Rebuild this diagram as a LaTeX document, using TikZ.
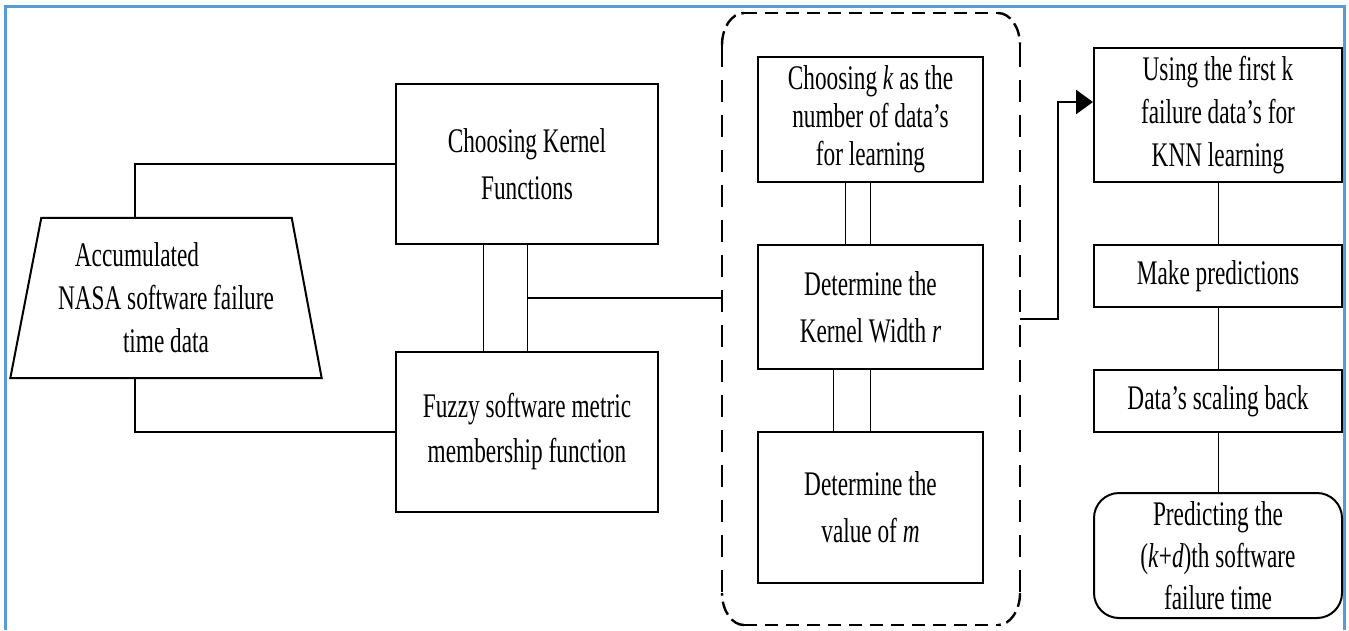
\documentclass[tikz,border=0pt]{standalone}
\usepackage{fontspec}
\setmainfont{Liberation Serif}[FakeStretch=0.675]
\usetikzlibrary{arrows.meta,calc}
\definecolor{frameblue}{RGB}{91,155,213}
\begin{document}
\begin{tikzpicture}[x=1pt,y=-1pt,
  box/.style={draw,line width=2pt,inner sep=0pt,align=center,font=\fontsize{34.5}{44}\selectfont},
  thinline/.style={line width=1pt},
  conn/.style={line width=2.6pt},
  hdash/.style={line width=2.4pt,dash pattern=on 13pt off 8pt},
  vdash/.style={line width=2.4pt,dash pattern=on 22pt off 13pt},
  cdash/.style={line width=2.4pt,dash pattern=on 14pt off 6pt}]
\useasboundingbox (0,0) rectangle (1349,630);
\draw[color=frameblue,line width=3pt] (5,630) -- (5,6) -- (1344,6) -- (1344,630);

% left part
\node[inner sep=0pt,align=center,minimum width=311pt,minimum height=160pt,font=\fontsize{34.5}{43}\selectfont] (src) at (166,298) {Accumulated\hspace*{58pt}\\NASA software failure\\time data};
\draw[line width=2pt] (src.south west) -- ([xshift=31pt]src.north west) -- ([xshift=-30pt]src.north east) -- (src.south east) -- cycle;

\node[box,minimum width=262pt,minimum height=160pt,font=\fontsize{34.5}{47}\selectfont] (kern) at (527,164) {Choosing Kernel\\Functions};
\node[box,minimum width=262pt,minimum height=160pt,font=\fontsize{34.5}{45}\selectfont] (fuzzy) at (527,432) {Fuzzy software metric\\membership function};

\draw[conn] ([xshift=-31pt]src.north) |- (kern.west);
\draw[conn] ([xshift=-31pt]src.south) |- (fuzzy.west);
\draw[thinline] ([xshift=-44pt]kern.south) -- ([xshift=-44pt]fuzzy.north);
\draw[thinline] (kern.south) -- (fuzzy.north);

% dashed group (outline drawn side by side)
\node[inner sep=0pt,outer sep=0pt,minimum width=298pt,minimum height=612pt] (grp) at (871,319) {};
\draw[hdash] (744,13) -- (998,13);
\draw[hdash] (744,625) -- (998,625);
\draw[vdash] (722,45) -- (722,593);
\draw[vdash] (1020,45) -- (1020,593);
\draw[cdash] (722,45) .. controls (722,27.3) and (731.9,13) .. (744,13);
\draw[cdash] (998,13) .. controls (1010.1,13) and (1020,27.3) .. (1020,45);
\draw[cdash] (1020,593) .. controls (1020,610.7) and (1010.1,625) .. (998,625);
\draw[cdash] (744,625) .. controls (731.9,625) and (722,610.7) .. (722,593);

\node[box,minimum width=225pt,minimum height=125pt,font=\fontsize{34.5}{38}\selectfont] (ck) at (870.5,119.5) {Choosing \textit{k} as the\\number of data’s\\for learning};
\node[box,minimum width=225pt,minimum height=124pt,font=\fontsize{34.5}{47}\selectfont] (kw) at (870.5,307) {Determine the\\Kernel Width \textit{r}};
\node[box,minimum width=225pt,minimum height=151pt,font=\fontsize{34.5}{47}\selectfont] (vm) at (870.5,507.5) {Determine the\\value of \textit{m}};
\draw[thinline] ([xshift=-25.5pt]ck.south) -- ([xshift=-25.5pt]kw.north);
\draw[thinline] (ck.south) -- (kw.north);
\draw[thinline] ([xshift=-37.5pt]kw.south) -- ([xshift=-37.5pt]vm.north);
\draw[thinline] (kw.south) -- (vm.north);

\coordinate (jn) at (527,298);
\draw[conn] (jn) -- (jn -| grp.west);

% right column
\node[box,minimum width=248pt,minimum height=134pt,font=\fontsize{34.5}{43}\selectfont] (use) at (1218,115) {Using the first k\\failure data’s for\\KNN learning};
\node[box,minimum width=248pt,minimum height=62pt] (mp) at (1218,276) {Make predictions};
\node[box,minimum width=248pt,minimum height=62pt] (sb) at (1218,401) {Data’s scaling back};
\node[box,rounded corners=25pt,minimum width=248pt,minimum height=125pt,font=\fontsize{34.5}{42}\selectfont] (pr) at (1218,555.5) {Predicting the\\(\textit{k}+\textit{d})th software\\failure time};

\draw[conn,-{Triangle[length=17pt,width=24pt]}] (grp.east) -- ++(38,0) |- ([yshift=13pt]use.west);
\draw[thinline] (use.south) -- (mp.north);
\draw[thinline] (mp.south) -- (sb.north);
\draw[thinline] (sb.south) -- (pr.north);
\end{tikzpicture}
\end{document}
